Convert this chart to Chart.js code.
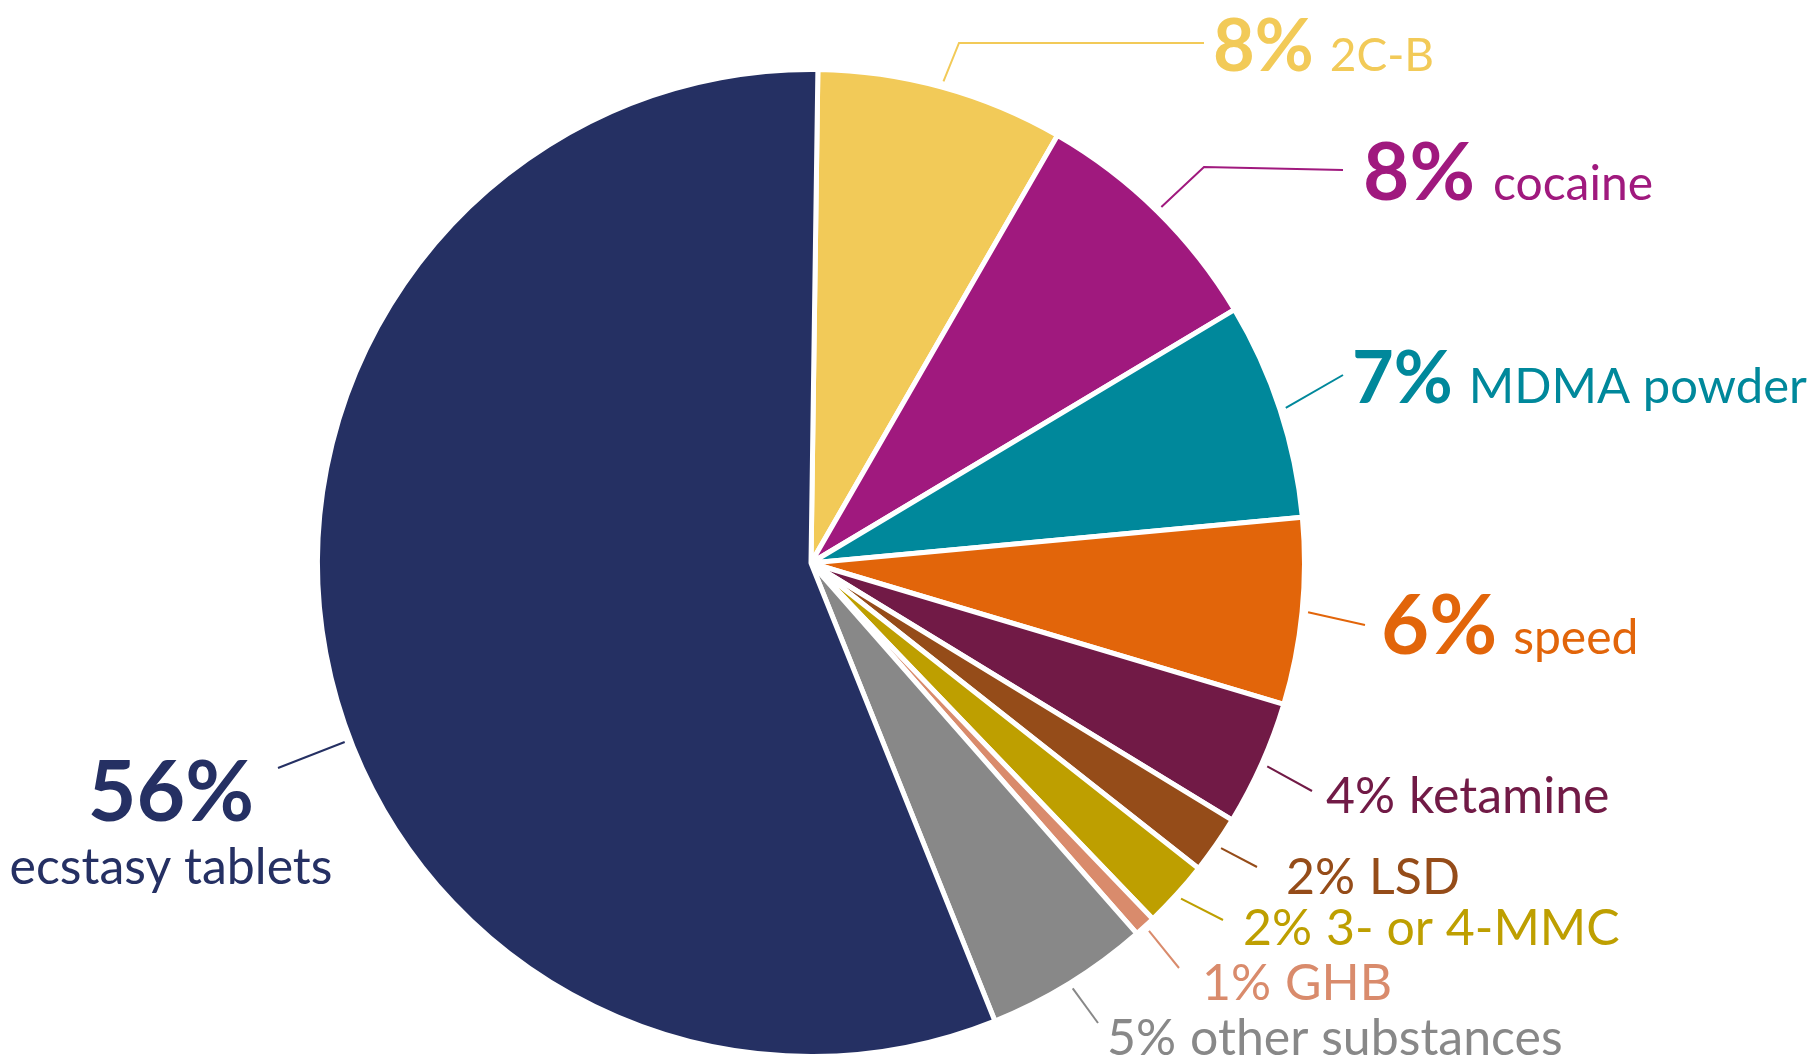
<!DOCTYPE html>
<html lang="en">
<head>
<meta charset="UTF-8">
<title>Substances</title>
<script src="https://cdn.jsdelivr.net/npm/chart.js@4.4.1/dist/chart.umd.min.js"></script>
<style>
  html, body { margin: 0; padding: 0; background: #fff; }
  #wrap { width: 1812px; height: 1061px; }
</style>
</head>
<body>
<div id="wrap"><canvas id="pie" width="1812" height="1061"></canvas></div>
<script>
  // slices, clockwise from the top
  const substances = ['2C-B', 'cocaine', 'MDMA powder', 'speed', 'ketamine', 'LSD',
                      '3- or 4-MMC', 'GHB', 'other substances', 'ecstasy tablets'];
  const shares = [8.1, 8.1, 7.1, 6.1, 4.1, 1.9, 2.2, 0.7, 5.4, 56.3];
  const colours = ['#f2ca58', '#a0197e', '#00889b', '#e2650a', '#711a46', '#954c19',
                   '#be9f00', '#d98b6c', '#888888', '#253063'];

  // label placement, px offsets from the pie centre
  const labelLayout = [
    { leg: [[148, -520], [393, -520]], at: [402, -492], pct: 72, name: 46, gap: 16, bold: true },
    { leg: [[393, -396], [532, -393]], at: [552, -363], pct: 80, name: 48, gap: 18, bold: true },
    { leg: [[532, -188]], at: [541, -160], pct: 72, name: 49, gap: 16, bold: true },
    { leg: [[554, 62]], at: [570, 91], pct: 83, name: 48, gap: 16, bold: true },
    { leg: [[501, 228]], at: [515, 250], pct: 50, name: 50, gap: 14 },
    { leg: [[446, 304]], at: [475, 331], pct: 50, name: 50, gap: 14 },
    { leg: [[412, 357]], at: [432, 382], pct: 50, name: 50, gap: 14 },
    { leg: [[368, 405]], at: [391, 437], pct: 50, name: 50, gap: 14 },
    { leg: [[287, 460]], at: [296, 492], pct: 50, name: 50, gap: 14 },
    { leg: [[-533, 205]], at: [-640, 258], pct: 84, name: 50, bold: true, stacked: true, angle: 249 }
  ];

  const FONT = 'Lato, "Open Sans", sans-serif';

  const leaderLabels = {
    id: 'leaderLabels',
    afterDatasetsDraw(chart) {
      const ctx = chart.ctx;
      const arcs = chart.getDatasetMeta(0).data;
      ctx.save();
      arcs.forEach((arc, i) => {
        const L = labelLayout[i];
        const col = colours[i];
        const cx = arc.x, cy = arc.y;
        let a = (arc.startAngle + arc.endAngle) / 2;
        if (L.angle !== undefined) a = (L.angle - 90) * Math.PI / 180;
        const r0 = arc.outerRadius + 6;

        ctx.strokeStyle = col;
        ctx.lineWidth = 2;
        ctx.beginPath();
        ctx.moveTo(cx + Math.cos(a) * r0, cy + Math.sin(a) * r0);
        L.leg.forEach(p => ctx.lineTo(cx + p[0], cy + p[1]));
        ctx.stroke();

        const pctText = Math.round(shares[i]) + '%';
        ctx.fillStyle = col;
        ctx.textBaseline = 'alphabetic';
        const pctFont = (L.bold ? '700 ' : '400 ') + L.pct + 'px ' + FONT;
        const nameFont = '400 ' + L.name + 'px ' + FONT;
        const x = cx + L.at[0], y = cy + L.at[1];
        if (L.stacked) {
          ctx.textAlign = 'center';
          ctx.font = pctFont;
          ctx.fillText(pctText, x, y);
          ctx.font = nameFont;
          ctx.fillText(substances[i], x, y + 63);
        } else {
          ctx.textAlign = 'left';
          ctx.font = pctFont;
          ctx.fillText(pctText, x, y);
          const w = ctx.measureText(pctText).width;
          ctx.font = nameFont;
          ctx.fillText(substances[i], x + w + L.gap, y);
        }
      });
      ctx.restore();
    }
  };

  new Chart(document.getElementById('pie'), {
    type: 'pie',
    data: {
      labels: substances,
      datasets: [{
        data: shares,
        backgroundColor: colours,
        borderColor: '#ffffff',
        borderWidth: 5
      }]
    },
    options: {
      responsive: false,
      animation: false,
      rotation: 0.8,
      layout: { padding: { left: 315, top: 67, right: 505, bottom: 2 } },
      plugins: {
        legend: { display: false },
        tooltip: { enabled: false }
      }
    },
    plugins: [leaderLabels]
  });
</script>
</body>
</html>
